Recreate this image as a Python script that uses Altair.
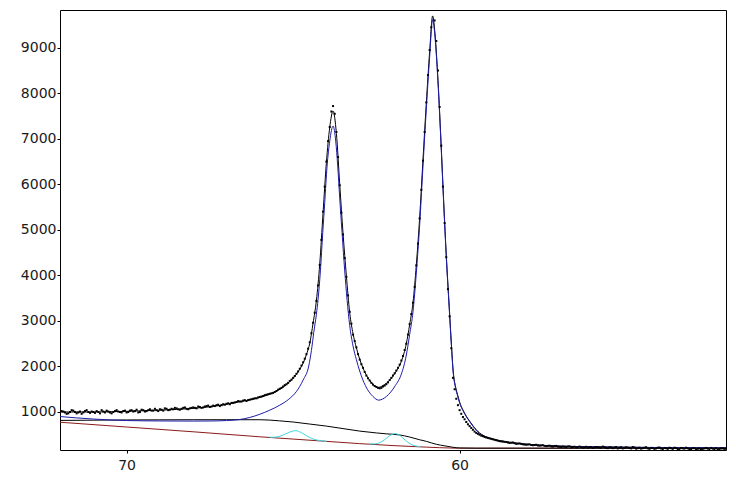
import altair as alt
import pandas as pd

# ---------------- data ----------------
# raw spectrum (dots), binding energy grid 72.0 -> 52.0 eV, step 0.1
dot_be = [round(72.0 - 0.1 * i, 1) for i in range(201)]
dot_counts = [
    980, 1010, 960, 1000, 1030, 970, 1010, 990, 1040, 980,      # 72.0-71.1
    1000, 1020, 970, 1010, 1030, 990, 1000, 1040, 1000, 1020,   # 71.0-70.1
    990, 1030, 1010, 1050, 1000, 1040, 1020, 1060, 1030, 1040,  # 70.0-69.1
    1060, 1030, 1070, 1050, 1060, 1080, 1050, 1090, 1070, 1080, # 69.0-68.1
    1100, 1080, 1110, 1100, 1130, 1110, 1140, 1150, 1130, 1170, # 68.0-67.1
    1180, 1170, 1200, 1220, 1230, 1250, 1240, 1270, 1290, 1300, # 67.0-66.1
    1330, 1350, 1380, 1400, 1420, 1460, 1510, 1560, 1610, 1680, # 66.0-65.1
    1750, 1840, 1950, 2090, 2270, 2530, 2960, 3440, 4230, 5400, # 65.0-64.1
    6500, 7260, 7720, 7150, 5980, 4900, 3970, 3200, 2700, 2420, # 64.0-63.1
    2150, 1970, 1800, 1690, 1600, 1550, 1520, 1560, 1610, 1700, # 63.0-62.1
    1800, 1910, 2040, 2230, 2500, 2930, 3400, 4220, 5250, 6520, # 62.0-61.1
    7800, 8950, 9830, 9150, 7700, 5950, 4400, 3100, 1750, 1290, # 61.0-60.1
    1040, 890, 780, 690, 610, 540, 500, 470, 440, 420,          # 60.0-59.1
    400, 380, 360, 350, 340, 320, 330, 300, 310, 290,           # 59.0-58.1
    280, 290, 270, 280, 260, 270, 250, 260, 240, 255,           # 58.0-57.1
    235, 240, 225, 245, 230, 220, 240, 215, 235, 225,           # 57.0-56.1
    210, 230, 220, 240, 210, 225, 205, 230, 215, 200,           # 56.0-55.1
    225, 210, 230, 195, 215, 205, 225, 190, 210, 200,           # 55.0-54.1
    220, 185, 205, 215, 190, 210, 180, 200, 215, 185,           # 54.0-53.1
    205, 175, 200, 190, 210, 170, 195, 205, 185, 200,           # 53.0-52.1
    195,                                                        # 52.0
]
# the intermediate channels 71.95 -> 52.05 eV
half_be = [round(71.95 - 0.1 * i, 2) for i in range(200)]
half_counts = [
    1020, 990, 970, 1040, 1000, 990, 960, 1020, 1000, 1010,     # 71.95-71.05
    980, 1000, 1040, 990, 1010, 970, 1020, 1010, 990, 1030,     # 70.95-70.05
    1000, 1040, 1020, 990, 1050, 1010, 1040, 1030, 1070, 1020,  # 69.95-69.05
    1050, 1080, 1040, 1070, 1090, 1060, 1070, 1100, 1060, 1090, # 68.95-68.05
    1090, 1120, 1090, 1120, 1140, 1120, 1130, 1160, 1150, 1160, # 67.95-67.05
    1190, 1200, 1210, 1240, 1230, 1260, 1260, 1280, 1300, 1320, # 66.95-66.05
    1340, 1370, 1390, 1410, 1440, 1490, 1530, 1590, 1640, 1710, # 65.95-65.05
    1790, 1890, 2020, 2170, 2390, 2730, 3180, 3780, 4780, 5950, # 64.95-64.05
    6950, 7600, 7550, 6600, 5380, 4380, 3560, 2940, 2560, 2270, # 63.95-63.05
    2050, 1880, 1740, 1640, 1570, 1530, 1530, 1580, 1650, 1750, # 62.95-62.05
    1850, 1970, 2130, 2360, 2700, 3150, 3750, 4700, 5880, 7150, # 61.95-61.05
    8400, 9450, 9600, 8500, 6850, 5150, 3700, 2400, 1500, 1150, # 60.95-60.05
    960, 840, 730, 650, 570, 520, 480, 450, 430, 410,           # 59.95-59.05
    390, 370, 355, 345, 330, 325, 315, 305, 300, 285,           # 58.95-58.05
    285, 275, 275, 265, 265, 255, 255, 245, 250, 240,           # 57.95-57.05
    230, 235, 240, 220, 235, 225, 230, 220, 215, 230,           # 56.95-56.05
    220, 225, 215, 230, 205, 220, 215, 200, 225, 210,           # 55.95-55.05
    215, 200, 220, 205, 195, 215, 200, 210, 190, 215,           # 54.95-54.05
    200, 210, 190, 205, 215, 185, 210, 195, 200, 185,           # 53.95-53.05
    205, 190, 180, 200, 195, 210, 185, 175, 200, 190,           # 52.95-52.05
]

# overall fit envelope (black line through the dots)
env_be = [72.0, 71.0, 70.0, 69.0, 68.0, 67.5, 67.0, 66.5, 66.0, 65.5, 65.2, 65.0,
          64.9, 64.8, 64.7, 64.6, 64.5, 64.4, 64.3, 64.2, 64.1, 64.0, 63.9, 63.8,
          63.7, 63.6, 63.5, 63.4, 63.3, 63.2, 63.1, 63.0, 62.8, 62.6, 62.45, 62.3,
          62.1, 61.9, 61.75, 61.6, 61.5, 61.4, 61.3, 61.2, 61.1, 61.0, 60.9, 60.81,
          60.74, 60.66, 60.56, 60.47, 60.4, 60.31, 60.25, 60.19, 60.12, 60.06, 60.0,
          59.9, 59.8, 59.7, 59.6, 59.5, 59.4, 59.2, 59.0, 58.5, 58.0, 57.5, 57.0,
          56.0, 55.0, 54.0, 53.0, 52.0]
env_counts = [1000, 1000, 1015, 1040, 1080, 1115, 1170, 1240, 1320, 1460, 1600, 1740,
              1830, 1940, 2070, 2260, 2510, 2950, 3450, 4250, 5380, 6480, 7250, 7610,
              7120, 6000, 4920, 3990, 3180, 2720, 2410, 2160, 1810, 1610, 1540, 1580,
              1700, 1900, 2110, 2500, 2920, 3400, 4230, 5260, 6540, 7780, 8910, 9700,
              9320, 8440, 6970, 5500, 4450, 3300, 2540, 1880, 1550, 1380, 1220,
              1045, 910, 800, 700, 610, 540, 455, 405, 335, 292, 266, 251,
              236, 226, 219, 214, 211]

# main doublet component (blue)
main_be = [72.0, 71.5, 71.0, 70.5, 70.0, 69.0, 68.0, 67.5, 67.0, 66.6, 66.3, 66.0,
           65.7, 65.4, 65.13, 64.9, 64.7, 64.53, 64.45, 64.38, 64.3, 64.25, 64.18,
           64.11, 64.05, 63.98, 63.9, 63.8, 63.72, 63.66, 63.6, 63.53, 63.45, 63.38,
           63.3, 63.2, 63.1, 63.0, 62.83, 62.6, 62.43, 62.2, 61.93, 61.75, 61.6, 61.5,
           61.4, 61.3, 61.2, 61.1, 61.0, 60.9, 60.81, 60.74, 60.66, 60.56, 60.47,
           60.4, 60.31, 60.25, 60.19, 60.12, 60.06, 60.0, 59.9, 59.8, 59.7, 59.6,
           59.5, 59.4, 59.2, 59.0, 58.5, 58.0, 57.5, 57.0, 56.0, 55.0, 54.0, 53.0, 52.0]
main_counts = [900, 870, 845, 825, 812, 803, 800, 802, 812, 835, 880, 950,
               1040, 1150, 1280, 1450, 1700, 2011, 2350, 2744, 3150, 3475, 4100,
               4940, 5600, 6400, 6950, 7280, 6950, 6400, 5700, 4940, 4100, 3475,
               2900, 2450, 2150, 1900, 1580, 1340, 1260, 1340, 1580, 1830, 2250, 2700,
               3200, 4050, 5100, 6400, 7650, 8800, 9620, 9250, 8377, 6915, 5450,
               4400, 3256, 2500, 1850, 1520, 1353, 1200, 1030, 900, 790, 690,
               600, 530, 450, 400, 330, 290, 265, 250, 235, 225, 218, 213, 210]

# lower black curve (background + minor components)
low_be = [72.0, 71.0, 70.0, 69.0, 68.0, 67.0, 66.0, 65.7, 65.4, 65.0, 64.5, 64.0,
          63.5, 63.0, 62.5, 62.2, 62.0, 61.8, 61.5, 61.2, 61.0, 60.7, 60.44, 60.2,
          60.0, 59.5, 52.0]
low_counts = [815, 820, 825, 828, 830, 830, 830, 822, 805, 780, 735, 690,
              635, 580, 540, 520, 510, 495, 450, 390, 355, 290, 255, 225,
              210, 205, 205]

# linear baseline (brown)
base_be = [72.0, 70.0, 68.0, 66.0, 65.0, 64.0, 63.0, 62.0, 61.0, 60.2, 60.0, 52.0]
base_counts = [775, 670, 565, 455, 405, 355, 305, 262, 228, 207, 205, 205]

# two small components (cyan)
c1_be = [65.7, 65.55, 65.4, 65.25, 65.1, 64.92, 64.75, 64.6, 64.45, 64.3, 64.15, 64.0]
c1_counts = [444, 447, 468, 509, 560, 590, 545, 481, 422, 387, 366, 356]
c2_be = [62.72, 62.55, 62.4, 62.25, 62.1, 61.93, 61.78, 61.63, 61.48, 61.33, 61.18]
c2_counts = [296, 299, 326, 392, 478, 525, 476, 379, 298, 256, 238]

x_ticks = [70, 60]
y_ticks = [1000, 2000, 3000, 4000, 5000, 6000, 7000, 8000, 9000]

# ---------------- chart ----------------
xs = alt.Scale(domain=[52, 72], reverse=True, nice=False, zero=False)
ys = alt.Scale(domain=[165, 9830], nice=False, zero=False)
axis_style = dict(
    title=None, grid=False, domain=False, tickColor="black", tickSize=3,
    labelFont="DejaVu Sans", labelFontSize=14, labelColor="#1a1a1a", format="d",
)
xax = alt.Axis(values=x_ticks, labelPadding=5, **axis_style)
yax = alt.Axis(values=y_ticks, labelPadding=1, **axis_style)


def line(be, counts, color, width=1.0):
    df = pd.DataFrame({"be": be, "counts": counts})
    return alt.Chart(df).mark_line(
        color=color, strokeWidth=width, clip=True, interpolate="monotone"
    ).encode(
        x=alt.X("be:Q", scale=xs, axis=xax),
        y=alt.Y("counts:Q", scale=ys, axis=yax),
        order="be:Q",
    )


dots_df = pd.DataFrame({"be": dot_be + half_be, "counts": dot_counts + half_counts})
dots = alt.Chart(dots_df).mark_square(size=4, color="black", opacity=1, clip=True).encode(
    x=alt.X("be:Q", scale=xs, axis=xax),
    y=alt.Y("counts:Q", scale=ys, axis=yax),
)

chart = alt.layer(
    line(base_be, base_counts, "#8b1a1a"),
    line(low_be, low_counts, "#000000"),
    line(c1_be, c1_counts, "#3fd6e0"),
    line(c2_be, c2_counts, "#3fd6e0"),
    line(env_be, env_counts, "#000000"),
    line(main_be, main_counts, "#1c1ca8"),
    dots,
).properties(
    width=666,
    height=440,
    autosize=alt.AutoSizeParams(type="none"),
    padding={"left": 52, "top": 2, "right": 2, "bottom": 21},
    background="white",
).configure_view(
    stroke="black", strokeWidth=1
)

chart.save("out.html", embed_options={"renderer": "svg", "actions": False})
